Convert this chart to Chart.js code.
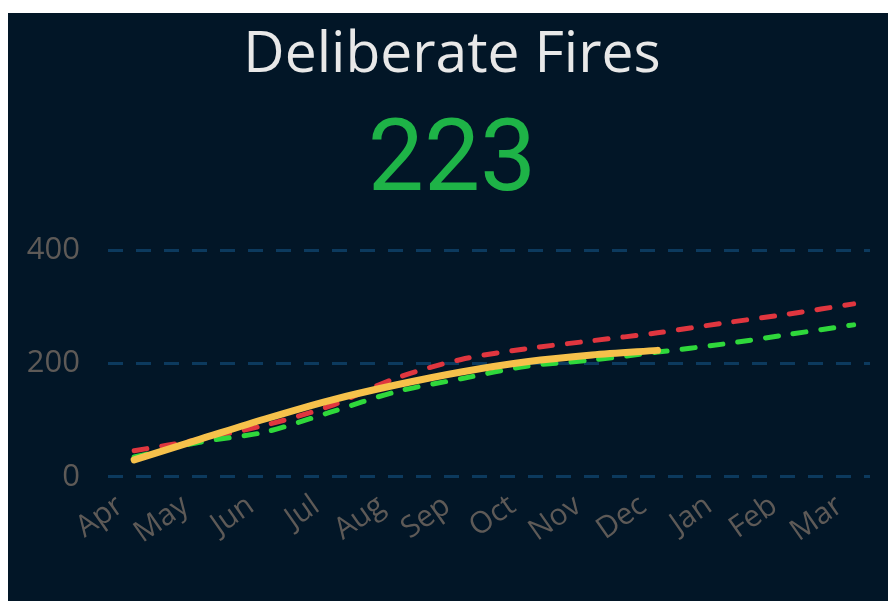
<!DOCTYPE html>
<html>
<head>
<meta charset="utf-8">
<title>Deliberate Fires</title>
<script src="https://cdn.jsdelivr.net/npm/chart.js@4/dist/chart.umd.min.js"></script>
<style>
  html, body { margin: 0; padding: 0; background: #fff; width: 888px; height: 601px; overflow: hidden; }
  #panel { position: absolute; left: 8px; top: 13px; width: 888px; height: 600px; background: #021627; }
  #title { position: absolute; left: 0; width: 888px; top: 9px; text-align: center;
           font-family: "Open Sans", sans-serif; font-size: 57px; color: #e8e8e8; line-height: 1; }
  #total { position: absolute; left: 0; width: 888px; top: 93px; text-align: center;
           font-family: Roboto, sans-serif; font-size: 100px; color: #1eb347; line-height: 1; }
  #wrap { position: absolute; left: 0; top: 187px; width: 880px; height: 401px; }
</style>
</head>
<body>
<div id="panel">
  <div id="title">Deliberate Fires</div>
  <div id="total">223</div>
  <div id="wrap"><canvas id="chart"></canvas></div>
</div>
<script>
// months of the financial year
const months = ['Apr','May','Jun','Jul','Aug','Sep','Oct','Nov','Dec','Jan','Feb','Mar'];
// cumulative counts
const actual  = [30, 66, 102, 135, 162, 185, 203, 215, 223];
const upper   = [46, 66, 91, 125, 174, 207, 226, 240, 254, 271, 287, 305];
const lower   = [35, 61, 79, 114, 150, 173, 195, 206, 220, 234, 251, 268];
const yTicks  = [0, 200, 400];

const tickColor = '#5e5a57';
const tickFont = {family: '"Open Sans", sans-serif', size: 31};

function pts(arr){ return arr.map((v, i) => ({x: i, y: v})); }

const ctx = document.getElementById('chart').getContext('2d');
new Chart(ctx, {
  type: 'line',
  data: {
    datasets: [
      {label: 'Actual', data: pts(actual), borderColor: '#f6c14b', borderWidth: 7,
       borderCapStyle: 'round', pointRadius: 0, tension: 0.3, order: 0},
      {label: 'Lower', data: pts(lower), borderColor: '#2fd83b', borderWidth: 5,
       borderDash: [13, 15], borderCapStyle: 'round', pointRadius: 0, tension: 0.3, order: 1},
      {label: 'Upper', data: pts(upper), borderColor: '#e0363f', borderWidth: 5,
       borderDash: [13, 15], borderCapStyle: 'round', pointRadius: 0, tension: 0.3, order: 2}
    ]
  },
  options: {
    responsive: true,
    maintainAspectRatio: false,
    animation: false,
    layout: {padding: {left: 16, right: 18, top: 50, bottom: 47}},
    plugins: {legend: {display: false}, tooltip: {enabled: false}},
    scales: {
      x: {
        type: 'linear',
        min: -0.4,
        max: 11.25,
        grid: {display: false},
        border: {display: false},
        afterFit: s => { s.paddingLeft = 0; s.paddingRight = 0; },
        ticks: {
          stepSize: 1,
          includeBounds: false,
          autoSkip: false,
          maxRotation: 35,
          minRotation: 35,
          color: tickColor,
          font: {family: tickFont.family, size: 30},
          padding: 3,
          labelOffset: -14,
          callback: v => months[v] || ''
        }
      },
      y: {
        min: yTicks[0],
        max: yTicks[yTicks.length - 1],
        afterBuildTicks: s => { s.ticks = yTicks.map(v => ({value: v})); },
        afterFit: s => { s.width = 84; },
        grid: {color: '#0c3a5e', lineWidth: 3, drawTicks: false},
        border: {display: false, dash: [15, 13]},
        ticks: {color: tickColor, font: tickFont, padding: 28}
      }
    }
  }
});
</script>
</body>
</html>
